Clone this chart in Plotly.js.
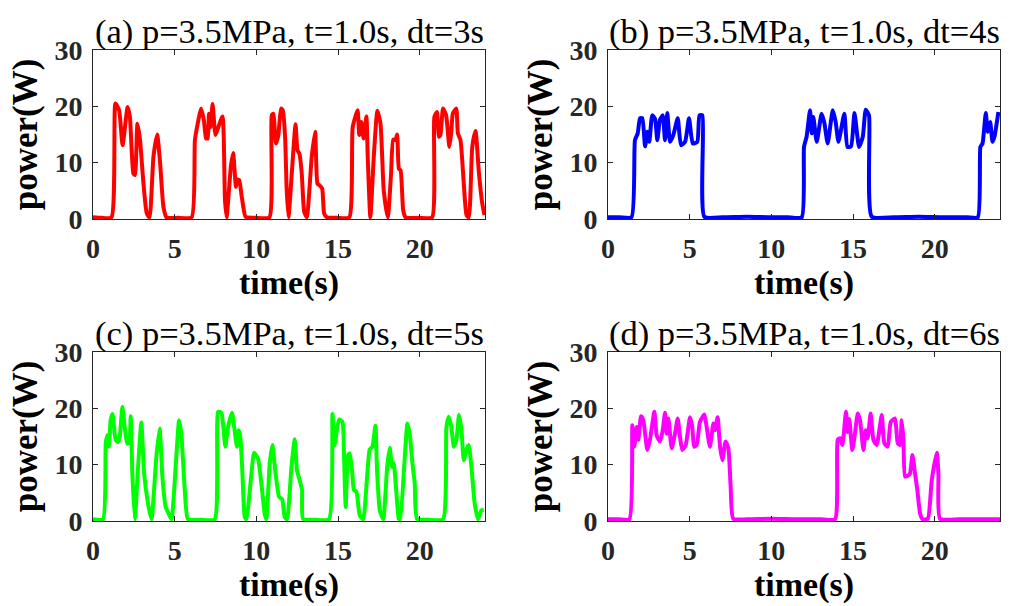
<!DOCTYPE html>
<html>
<head>
<meta charset="utf-8">
<script src="https://cdn.plot.ly/plotly-3.0.1.min.js"></script>
<style>html,body{margin:0;padding:0;background:#fff;}#chart{width:1013px;height:606px;}</style>
</head>
<body>
<div id="chart"></div>
<script>
// ---- data ----
const panelTitles = [
  "(a) p=3.5MPa, t=1.0s, dt=3s",
  "(b) p=3.5MPa, t=1.0s, dt=4s",
  "(c) p=3.5MPa, t=1.0s, dt=5s",
  "(d) p=3.5MPa, t=1.0s, dt=6s"
];
const xTickVals = [0, 5, 10, 15, 20];
const yTickVals = [0, 10, 20, 30];
const xLabel = "time(s)";
const yLabel = "power(W)";

const tA = [0,0.5,1.13,1.37,1.6,1.81,2.12,2.26,2.47,2.57,2.72,2.88,3.09,3.29,3.46,3.7,3.93,4.11,4.31,4.5,5.2,6.04,6.24,6.45,6.61,6.79,6.92,7.02,7.1,7.2,7.32,7.5,7.67,7.93,8.08,8.18,8.44,8.58,8.75,8.83,8.95,9.1,9.2,9.34,10.0,10.8,10.94,11.04,11.2,11.35,11.51,11.62,11.76,11.86,11.97,12.17,12.4,12.52,12.64,12.78,12.93,13.09,13.39,13.6,13.74,13.86,14.03,14.15,14.32,15.0,15.69,15.9,16.2,16.3,16.43,16.57,16.74,16.82,16.98,17.19,17.41,17.6,17.8,18.05,18.25,18.38,18.52,18.62,18.73,18.83,18.99,19.14,20.0,20.76,20.9,21.06,21.17,21.27,21.43,21.62,21.82,21.93,22.03,22.24,22.34,22.5,22.7,22.87,23.01,23.22,23.42,23.63,23.83,23.97];
const pA = [0.3,0.2,0.3,20.5,19.3,13.1,19.9,18.1,8.1,7.8,16.9,14,6.3,1,0.3,11,15,9.9,2.2,0.3,0.2,0.3,14,17.5,19.6,17.5,14.3,14.3,18.7,16.3,20.4,14.9,16.3,18.2,3.4,0.3,9.3,11.7,5.7,7,6.9,4.1,2.2,0.4,0.2,0.3,18.4,18.7,13.4,14.9,19.6,19.3,14.6,5.1,0.3,8.1,16.8,12.2,11.6,8.1,1.3,0.3,11,15.5,6.3,6,5.4,1,0.3,0.2,0.3,16.3,19.3,14.9,17.2,14.3,18.2,11,0.3,11,19.2,17,5.1,0.3,8.1,14.1,14,15,8.9,8.7,1.6,0.3,0.2,0.3,18.1,19,14.6,14.9,19.6,18.4,12.8,15.2,18.7,19.6,15.2,14,6.3,0.7,0.3,12.8,15.6,8.1,2.8,0.7];

const tB = [0,0.7,1.44,1.65,1.82,1.96,2.1,2.27,2.41,2.53,2.71,2.88,3.02,3.18,3.35,3.49,3.63,3.8,4.0,4.27,4.47,4.72,4.96,5.19,5.47,5.6,5.78,5.9,7.0,8.5,10.0,11.0,11.86,12.0,12.16,12.37,12.47,12.57,12.78,13.08,13.25,13.45,13.76,13.94,14.11,14.47,14.66,14.88,15.09,15.37,15.6,15.78,15.98,16.15,17.5,19.0,20.5,22.0,22.64,22.8,22.93,23.13,23.25,23.4,23.54,23.66,23.9];
const pB = [0.3,0.3,0.3,14,15.2,17.9,17.9,12.9,15.5,13.7,18.4,17.8,14,17.6,18.4,14,18.8,13.7,14.9,17.9,13.1,13.7,17.9,13.4,13.7,18.4,18.4,0.4,0.3,0.4,0.3,0.3,0.3,12.8,14.6,19.3,15.2,18.1,13.7,18.7,17,13.4,19.3,17.2,13.7,18.7,12.8,12.9,18.8,12.8,14.6,19.4,18.4,0.4,0.3,0.4,0.3,0.3,0.3,12.8,13.4,18.8,15.5,17.2,13.7,14.6,19];

const tC = [0,0.61,0.78,0.88,0.98,1.08,1.19,1.39,1.53,1.64,1.8,1.94,2.09,2.21,2.31,2.41,2.56,2.76,2.96,3.13,3.37,3.58,3.88,4.08,4.25,4.45,4.59,4.8,5.1,5.27,5.41,5.62,5.82,6.6,7.45,7.66,7.86,7.96,8.1,8.27,8.51,8.67,8.81,8.92,9.02,9.14,9.29,9.39,9.7,9.86,10.1,10.31,10.51,10.61,10.82,10.98,11.18,11.39,11.53,11.6,11.74,11.88,12.15,12.35,12.49,12.66,12.8,12.86,13.6,14.45,14.66,14.8,14.94,15.07,15.27,15.37,15.47,15.62,15.72,15.88,15.97,16.13,16.33,16.54,16.78,16.94,17.11,17.29,17.39,17.56,17.77,18.01,18.17,18.31,18.41,18.58,18.72,18.8,19.09,19.25,19.39,19.56,19.7,19.84,20.6,21.43,21.64,21.78,21.94,22.09,22.25,22.41,22.56,22.7,22.86,23.0,23.17,23.37,23.58,23.78,23.92];
const pC = [0.3,0.3,13.8,15.2,13.2,17.9,19,14.4,14,15,20.3,16.7,13.8,13.8,18.6,8.4,0.3,9.6,17.5,8.4,3.1,0.3,11.4,16.4,7.8,2.5,1.6,0.3,11.4,17.9,15.5,5.5,0.3,0.2,0.3,19.4,19.2,17.3,13.2,16.7,19.2,16.1,13.2,16.1,15,9,0.7,0.3,8.4,12.1,11.1,6.6,1.3,0.3,10.2,13.5,8.4,4.3,4,3.7,0.7,0.3,9.6,14.5,9,7.2,5.5,0.4,0.2,0.3,19,13.5,16.4,18,17.6,11.4,2.5,11.7,12,8.4,5.5,5.2,1,0.3,7.8,12.7,13.2,16.9,9,1.9,0.3,9.6,13,9.6,10.3,4.9,0.4,0.3,11.4,17.3,15.5,10.2,6.6,0.4,0.2,0.3,16.7,18.5,16.7,13.2,14.4,18.8,16.1,10.8,12.6,13.5,9.6,3.1,0.3,1.9,2];

const tD = [0,0.7,1.31,1.49,1.61,1.76,1.86,2.02,2.16,2.41,2.57,2.84,2.98,3.18,3.35,3.49,3.59,3.7,3.9,4.1,4.27,4.41,4.55,4.76,5.02,5.16,5.27,5.43,5.63,5.9,6.04,6.24,6.45,6.55,6.71,6.86,7.0,7.2,7.37,7.51,7.67,8.5,10.0,11.5,13.0,13.9,14.06,14.21,14.35,14.57,14.67,14.77,14.96,15.12,15.29,15.43,15.64,15.78,15.9,16.08,16.25,16.45,16.76,16.92,17.13,17.31,17.57,17.74,17.88,17.98,18.09,18.19,18.39,18.49,18.64,18.8,18.94,19.11,19.27,19.58,19.82,20.13,20.23,20.33,21.5,23.0,24];
const pD = [0.3,0.3,0.3,17,13.2,16.7,14.4,18.6,17.9,12.6,14.4,19.4,15.2,14.1,16.1,19.2,15.5,18.2,12.9,15.5,18.2,14.9,12.6,13.5,18.4,16.7,13.2,13.5,17.6,18.9,16.7,13.2,17.3,16.1,18.4,13.2,10.8,14.1,12.9,6.1,0.4,0.3,0.4,0.3,0.3,0.3,14.4,14.7,13.5,19.4,15.8,18.1,12.6,15.5,19.1,17.9,12.6,16.1,14.7,19.1,14.4,13.5,18.8,13.8,13.2,17.6,18.2,13.8,13.5,17.9,14.4,7.9,8.1,8.4,11.7,8.4,5.5,1.3,0.3,0.4,7.2,12.1,8.4,0.4,0.3,0.3,0.3];

const seriesT = [tA, tB, tC, tD];
const seriesP = [pA, pB, pC, pD];
const seriesColor = ["#ff0000", "#0000ff", "#00ff00", "#ff00ff"];

// ---- layout ----
const W = 1013, H = 606;
const xDomains = [[93/W, 485/W], [608/W, 1000/W]];
const yDomains = [[1-219/H, 1-50/H], [1-521/H, 1-352/H]];
const serif = "Liberation Serif, Times New Roman, serif";
const axisCol = "#262626";

const traces = [];
const layout = {
  width: W, height: H,
  margin: {l:0, r:0, t:0, b:0},
  paper_bgcolor: "#fff", plot_bgcolor: "#fff",
  showlegend: false,
  annotations: []
};

for (let i = 0; i < 4; i++) {
  const col = i % 2, row = Math.floor(i / 2);
  const sfx = i === 0 ? "" : String(i + 1);
  traces.push({
    x: seriesT[i], y: seriesP[i],
    xaxis: "x" + sfx, yaxis: "y" + sfx,
    type: "scatter", mode: "lines",
    line: {color: seriesColor[i], width: 4, shape: "spline", smoothing: 0.5},
    hoverinfo: "skip"
  });
  const common = {
    showline: true, mirror: "ticks", linecolor: axisCol, linewidth: 1,
    ticks: "inside", ticklen: 5, tickwidth: 1, tickcolor: axisCol,
    showgrid: false, zeroline: false,
    tickfont: {family: serif, size: 28, color: axisCol, weight: "bold"}
  };
  layout["xaxis" + sfx] = Object.assign({}, common, {
    domain: xDomains[col], anchor: "y" + sfx,
    range: [0, 24], tickvals: xTickVals, ticktext: xTickVals.map(String),
    ticklabelstandoff: 4,
    title: {text: "<b>" + xLabel + "</b>", font: {family: serif, size: 34, color: "#000"}, standoff: 4}
  });
  layout["yaxis" + sfx] = Object.assign({}, common, {
    domain: yDomains[row], anchor: "x" + sfx,
    range: [0, 30], tickvals: yTickVals, ticktext: yTickVals.map(String),
    ticklabelstandoff: 4,
    title: {text: "<b>" + yLabel + "</b>", font: {family: serif, size: 35, color: "#000"}, standoff: 6}
  });
  layout.annotations.push({
    text: panelTitles[i],
    xref: "paper", yref: "paper",
    x: (xDomains[col][0] + xDomains[col][1]) / 2,
    y: yDomains[row][1],
    xanchor: "center", yanchor: "bottom", yshift: -3,
    showarrow: false,
    font: {family: serif, size: 34.5, color: "#000"}
  });
}

Plotly.newPlot("chart", traces, layout, {staticPlot: true, displayModeBar: false});
</script>
</body>
</html>
